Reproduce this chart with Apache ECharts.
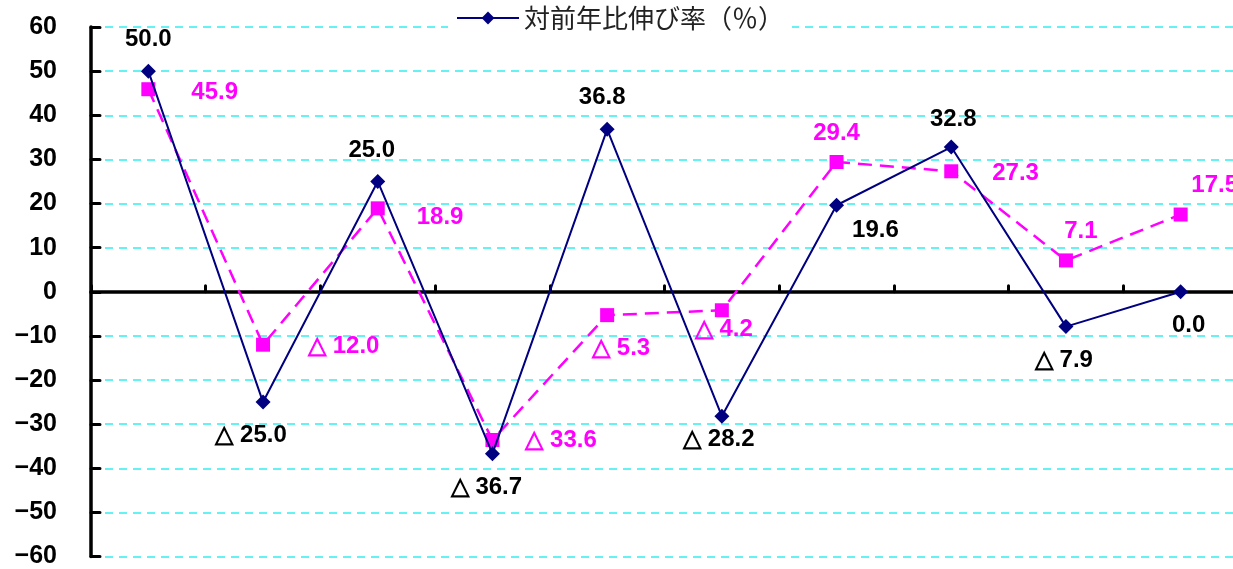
<!DOCTYPE html>
<html>
<head>
<meta charset="utf-8">
<script src="https://cdn.jsdelivr.net/npm/echarts@6/dist/echarts.min.js"></script>
<style>
  html, body { margin: 0; padding: 0; background: #fff; overflow: hidden; }
  /* プロット領域が右端で切れているので少し広めに描く */
  #main { width: 1238px; height: 569px; }
</style>
</head>
<body>
<div id="main"></div>
<script>
// 年度（軸ラベルは非表示）
var categories = ['1', '2', '3', '4', '5', '6', '7', '8', '9', '10'];
// 対前年比伸び率（％）
var rateValues = [50.0, -25.0, 25.0, -36.7, 36.8, -28.2, 19.6, 32.8, -7.9, 0.0];
// 比較系列（凡例なし）
var compareValues = [45.9, -12.0, 18.9, -33.6, -5.3, -4.2, 29.4, 27.3, 7.1, 17.5];
var yTicks = [-60, -50, -40, -30, -20, -10, 0, 10, 20, 30, 40, 50, 60];

// ラベルの置き場所
var rateLabelPos = [
  ['top', 12, [0, 0]], ['bottom', 14, [-12, 0]], ['top', 12, [-6, 0]], ['bottom', 14, [-6, 0]],
  ['top', 12, [-5, 0]], ['bottom', 4, [-3, 0]], ['right', 8, [0, 25]], ['top', 8, [2, 0]],
  ['bottom', 14, [-2, 0]], ['bottom', 14, [8, 0]]
];
var compareLabelPos = [
  ['right', 36, [0, 3]], ['right', 38, [0, 2]], ['right', 32, [0, 9]], ['right', 26, [0, 0]],
  ['bottom', 14, [14, 0]], ['bottom', 0, [2, 0]], ['top', 10, [0, 0]], ['right', 34, [0, 2]],
  ['top', 10, [15, 0]], ['top', 10, [34, 0]]
];

function fmt(v) {
  return v < 0 ? '△ ' + Math.abs(v).toFixed(1) : v.toFixed(1);
}

function buildData(values, pos, color) {
  return values.map(function (v, i) {
    return {
      value: v,
      label: {
        show: true,
        position: pos[i][0],
        distance: pos[i][1],
        offset: pos[i][2],
        color: color,
        formatter: fmt(v)
      }
    };
  });
}

var chart = echarts.init(document.getElementById('main'));
var labelFont = { fontFamily: 'Liberation Sans, Arial, sans-serif', fontWeight: 'bold', fontSize: 24 };

chart.setOption({
  animation: false,
  backgroundColor: '#fff',
  grid: { left: 91, right: 0, top: 27, bottom: 12 },
  legend: {
    data: ['対前年比伸び率（％）'],
    top: 1,
    left: 448,
    itemWidth: 62,
    itemHeight: 16,
    itemGap: 6,
    padding: [4, 8],
    backgroundColor: '#fff',
    textStyle: { fontFamily: 'Noto Sans CJK JP', fontSize: 26, color: '#222' }
  },
  xAxis: {
    type: 'category',
    data: categories,
    boundaryGap: true,
    axisLine: { onZero: true, lineStyle: { color: '#000', width: 3.5 } },
    axisTick: { show: true, inside: true, length: 6, lineStyle: { color: '#000', width: 3, cap: 'round' } },
    axisLabel: { show: false },
    splitLine: { show: false }
  },
  yAxis: {
    type: 'value',
    min: -60,
    max: 60,
    interval: 10,
    axisLine: { show: true, lineStyle: { color: '#000', width: 3.5, cap: 'round' } },
    axisTick: { show: true, inside: true, length: 9, lineStyle: { color: '#000', width: 3, cap: 'round' } },
    axisLabel: {
      margin: 34,
      color: '#000',
      fontFamily: 'Liberation Sans, Arial, sans-serif',
      fontWeight: 'bold',
      fontSize: 25,
      formatter: function (v) {
        return yTicks.indexOf(v) >= 0 ? (v < 0 ? '−' + Math.abs(v) : String(v)) : '';
      }
    },
    splitLine: { show: true, lineStyle: { color: '#33eeee', width: 1.5, type: [8, 6] } }
  },
  series: [
    {
      name: '対前年比伸び率（％）',
      type: 'line',
      data: buildData(rateValues, rateLabelPos, '#000'),
      symbol: 'diamond',
      symbolSize: 15,
      z: 3,
      lineStyle: { color: '#000080', width: 2 },
      itemStyle: { color: '#000080' },
      label: labelFont
    },
    {
      name: '比較',
      type: 'line',
      data: buildData(compareValues, compareLabelPos, '#ff00ff'),
      symbol: 'rect',
      symbolSize: 14,
      z: 2,
      lineStyle: { color: '#ff00ff', width: 2.5, type: [14, 8] },
      itemStyle: { color: '#ff00ff' },
      label: labelFont
    }
  ]
});
</script>
</body>
</html>
